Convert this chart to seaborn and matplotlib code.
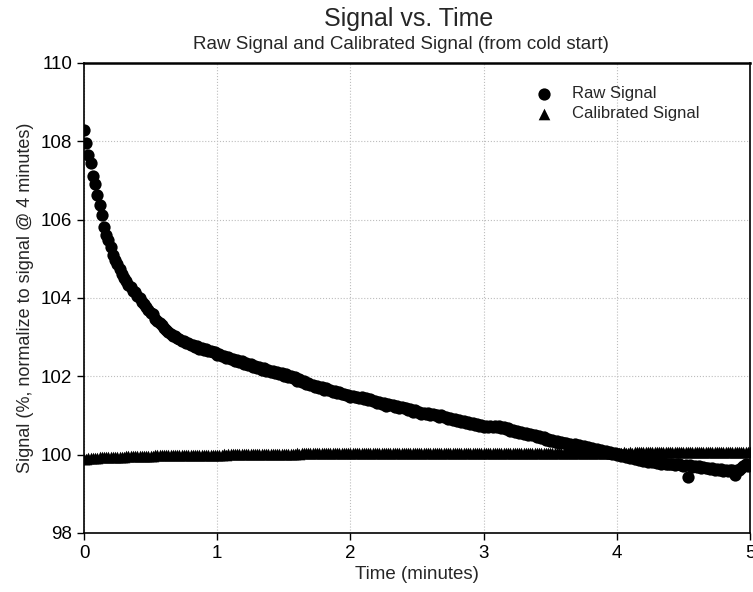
import numpy as np
import pandas as pd
import matplotlib
matplotlib.use("Agg")
import matplotlib.pyplot as plt
import seaborn as sns

# one sample per second over 5 minutes
time_s = list(range(0, 301))

raw_signal = [
    108.30, 107.95, 107.66, 107.44, 107.11, 106.90, 106.63, 106.37, 106.13, 105.82,
    105.62, 105.48, 105.30, 105.10, 104.98, 104.88, 104.75, 104.62, 104.50, 104.44,
    104.32, 104.27, 104.18, 104.14, 104.04, 104.00, 103.90, 103.84, 103.77, 103.70,
    103.62, 103.58, 103.47, 103.42, 103.36, 103.30, 103.24, 103.19, 103.14, 103.08,
    103.04, 103.02, 102.97, 102.95, 102.90, 102.91, 102.86, 102.84, 102.79, 102.80,
    102.76, 102.77, 102.71, 102.72, 102.68, 102.69, 102.64, 102.65, 102.61, 102.62,
    102.55, 102.58, 102.52, 102.53, 102.46, 102.49, 102.43, 102.45, 102.40, 102.41,
    102.37, 102.38, 102.31, 102.34, 102.28, 102.31, 102.24, 102.27, 102.20, 102.24,
    102.17, 102.20, 102.14, 102.16, 102.10, 102.13, 102.09, 102.12, 102.05, 102.08,
    102.02, 102.06, 101.98, 102.00, 101.95, 101.97, 101.89, 101.92, 101.86, 101.89,
    101.80, 101.84, 101.77, 101.79, 101.72, 101.75, 101.70, 101.72, 101.66, 101.69,
    101.64, 101.66, 101.61, 101.62, 101.58, 101.60, 101.54, 101.56, 101.52, 101.53,
    101.48, 101.50, 101.47, 101.48, 101.44, 101.46, 101.43, 101.44, 101.39, 101.42,
    101.36, 101.38, 101.32, 101.34, 101.29, 101.31, 101.25, 101.29, 101.26, 101.27,
    101.22, 101.24, 101.19, 101.22, 101.18, 101.20, 101.15, 101.17, 101.10, 101.13,
    101.08, 101.10, 101.05, 101.07, 101.05, 101.07, 101.02, 101.05, 101.00, 101.02,
    100.97, 101.00, 100.96, 100.97, 100.92, 100.94, 100.88, 100.91, 100.86, 100.88,
    100.84, 100.86, 100.82, 100.84, 100.79, 100.82, 100.76, 100.79, 100.74, 100.76,
    100.70, 100.73, 100.70, 100.72, 100.70, 100.73, 100.70, 100.72, 100.67, 100.70,
    100.65, 100.67, 100.60, 100.63, 100.58, 100.61, 100.54, 100.57, 100.53, 100.55,
    100.49, 100.52, 100.49, 100.50, 100.45, 100.47, 100.42, 100.44, 100.38, 100.41,
    100.34, 100.37, 100.33, 100.35, 100.29, 100.33, 100.29, 100.31, 100.25, 100.28,
    100.23, 100.26, 100.22, 100.24, 100.20, 100.23, 100.18, 100.20, 100.14, 100.17,
    100.12, 100.15, 100.10, 100.13, 100.07, 100.10, 100.05, 100.08, 100.01, 100.04,
    99.99, 100.01, 99.97, 99.99, 99.94, 99.97, 99.92, 99.95, 99.88, 99.91,
    99.86, 99.89, 99.83, 99.86, 99.81, 99.84, 99.80, 99.82, 99.78, 99.80,
    99.77, 99.79, 99.76, 99.77, 99.75, 99.76, 99.74, 99.76, 99.75, 99.74,
    99.72, 99.74, 99.43, 99.73, 99.69, 99.71, 99.68, 99.70, 99.66, 99.69,
    99.65, 99.67, 99.63, 99.66, 99.62, 99.64, 99.61, 99.63, 99.58, 99.60,
    99.59, 99.62, 99.60, 99.48, 99.62, 99.60, 99.66, 99.72, 99.76, 99.70,
    99.74,
]

calibrated_signal = [
    99.90, 99.90, 99.91, 99.91, 99.92, 99.92, 99.92, 99.93, 99.93, 99.93,
    99.94, 99.94, 99.94, 99.94, 99.95, 99.95, 99.95, 99.95, 99.95, 99.96,
    99.96, 99.96, 99.96, 99.96, 99.96, 99.97, 99.97, 99.97, 99.97, 99.97,
    99.97, 99.97, 99.98, 99.98, 99.98, 99.98, 99.98, 99.98, 99.98, 99.98,
    99.98, 99.99, 99.99, 99.99, 99.99, 99.99, 99.99, 99.99, 99.99, 99.99,
    99.99, 100.00, 100.00, 100.00, 100.00, 100.00, 100.00, 100.00, 100.00, 100.00,
    100.00, 100.00, 100.00, 100.01, 100.00, 100.01, 100.01, 100.01, 100.01, 100.01,
    100.01, 100.01, 100.01, 100.01, 100.01, 100.01, 100.01, 100.01, 100.02, 100.01,
    100.02, 100.02, 100.02, 100.02, 100.02, 100.02, 100.02, 100.02, 100.02, 100.02,
    100.02, 100.02, 100.02, 100.02, 100.02, 100.02, 100.03, 100.02, 100.03, 100.03,
    100.03, 100.03, 100.03, 100.03, 100.03, 100.03, 100.03, 100.03, 100.03, 100.03,
    100.03, 100.03, 100.03, 100.03, 100.03, 100.03, 100.03, 100.03, 100.03, 100.03,
    100.03, 100.03, 100.03, 100.03, 100.03, 100.04, 100.03, 100.03, 100.04, 100.03,
    100.04, 100.04, 100.04, 100.04, 100.04, 100.04, 100.04, 100.04, 100.04, 100.04,
    100.04, 100.04, 100.04, 100.04, 100.04, 100.04, 100.04, 100.04, 100.04, 100.04,
    100.04, 100.04, 100.04, 100.04, 100.04, 100.04, 100.04, 100.04, 100.04, 100.04,
    100.04, 100.04, 100.04, 100.04, 100.04, 100.04, 100.04, 100.04, 100.04, 100.04,
    100.04, 100.04, 100.04, 100.04, 100.04, 100.04, 100.04, 100.04, 100.05, 100.04,
    100.04, 100.05, 100.04, 100.05, 100.05, 100.04, 100.05, 100.05, 100.05, 100.05,
    100.05, 100.05, 100.05, 100.05, 100.05, 100.05, 100.05, 100.05, 100.05, 100.05,
    100.05, 100.05, 100.05, 100.05, 100.05, 100.05, 100.05, 100.05, 100.05, 100.05,
    100.05, 100.05, 100.05, 100.05, 100.05, 100.05, 100.05, 100.05, 100.05, 100.05,
    100.05, 100.05, 100.05, 100.05, 100.05, 100.05, 100.05, 100.05, 100.05, 100.05,
    100.05, 100.05, 100.05, 100.05, 100.05, 100.05, 100.05, 100.05, 100.05, 100.05,
    100.05, 100.05, 100.05, 100.06, 100.05, 100.05, 100.06, 100.05, 100.06, 100.06,
    100.06, 100.06, 100.06, 100.06, 100.06, 100.06, 100.06, 100.06, 100.06, 100.06,
    100.06, 100.06, 100.06, 100.06, 100.06, 100.06, 100.06, 100.06, 100.06, 100.06,
    100.06, 100.06, 100.06, 100.06, 100.06, 100.06, 100.06, 100.06, 100.06, 100.06,
    100.06, 100.06, 100.06, 100.06, 100.06, 100.06, 100.06, 100.06, 100.06, 100.06,
    100.06, 100.06, 100.06, 100.06, 100.06, 100.06, 100.06, 100.06, 100.06, 100.06,
    100.06,
]

time_min = np.array(time_s) / 60.0
df = pd.DataFrame({"time": time_min, "raw": raw_signal, "cal": calibrated_signal})

sns.set_style("ticks")
plt.rcParams["font.family"] = ["Liberation Sans", "DejaVu Sans"]

fig = plt.figure(figsize=(7.53, 5.92), dpi=100)
ax = fig.add_axes([0.1116, 0.0997, 0.8845, 0.7939])

sns.scatterplot(data=df, x="time", y="raw", ax=ax, color="black", marker="o",
                s=78, edgecolor="black", linewidth=0, label="Raw Signal", zorder=3)
sns.scatterplot(data=df, x="time", y="cal", ax=ax, color="black", marker="^",
                s=70, edgecolor="black", linewidth=0, label="Calibrated Signal", zorder=4)

ax.set_xlim(0, 5)
ax.set_ylim(98, 110)
ax.set_xticks([0, 1, 2, 3, 4, 5])
ax.set_yticks([98, 100, 102, 104, 106, 108, 110])
ax.grid(True, linestyle=":", color="#bdbdbd", linewidth=0.8)
ax.set_axisbelow(True)
for sp in ax.spines.values():
    sp.set_color("black")
    sp.set_linewidth(1.2)
ax.spines["top"].set_linewidth(1.8)
ax.tick_params(direction="out", length=5, width=1, labelsize=13.5, colors="black")

ax.set_xlabel("Time (minutes)", fontsize=13.5, labelpad=3)
ax.set_ylabel("Signal (%, normalize to signal @ 4 minutes)", fontsize=13, labelpad=5)

fig.text(0.542, 0.968, "Signal vs. Time", ha="center", va="center", fontsize=18)
fig.text(0.532, 0.924, "Raw Signal and Calibrated Signal (from cold start)",
         ha="center", va="center", fontsize=13.5)

ax.legend(loc="upper left", bbox_to_anchor=(0.643, 0.982), frameon=False,
          fontsize=12, handletextpad=0.7, labelspacing=0.3)

fig.savefig("out.png", dpi=100)
